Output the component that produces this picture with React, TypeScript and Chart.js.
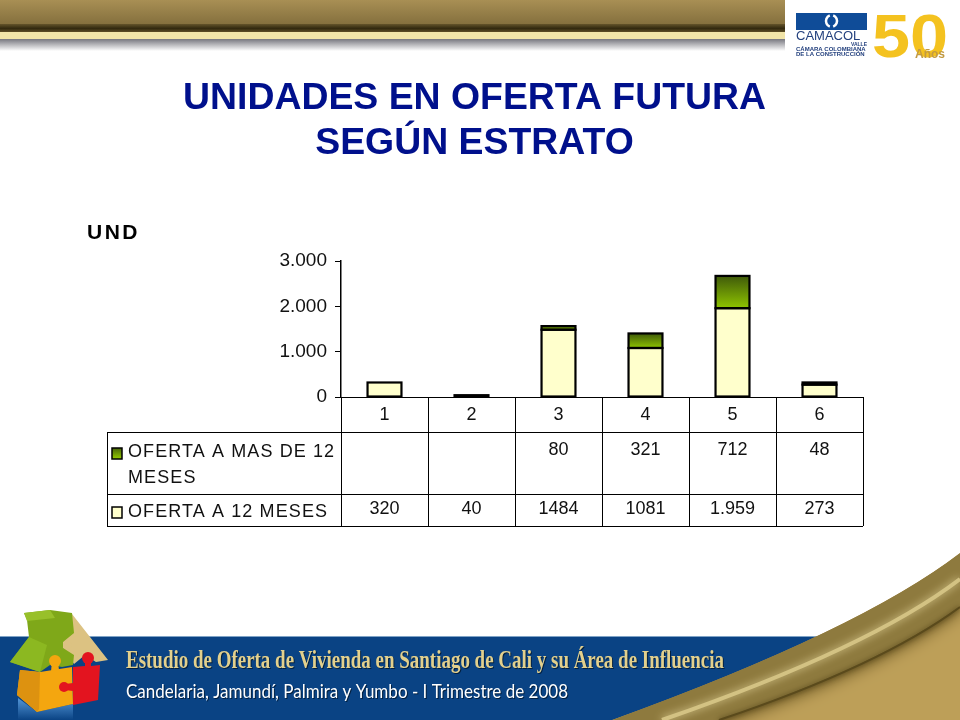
import { useEffect, useRef } from "react";
import Chart from "chart.js/auto";
import type { Plugin } from "chart.js";

const categories = ["1", "2", "3", "4", "5", "6"];
const offerLabel12 = "OFERTA A 12 MESES";
const offerLabelMore = ["OFERTA A MAS DE 12", "MESES"];
const offer12 = [320, 40, 1484, 1081, 1959, 273];
const offerMore = [null, null, 80, 321, 712, 48];
const offer12Text = ["320", "40", "1484", "1081", "1.959", "273"];
const offerMoreText = ["", "", "80", "321", "712", "48"];

const FONT = '"Liberation Sans", Arial, sans-serif';
const PLOT_LEFT = 341;
const PLOT_BOTTOM = 397;
const PAD_LEFT = 86;
const TABLE_LEFT = 107;
const ROW_LINES = [432, 494, 526];

const poly = (ctx: CanvasRenderingContext2D, pts: number[][], fill: string | CanvasGradient) => {
  ctx.beginPath();
  pts.forEach(([x, y], i) => (i ? ctx.lineTo(x, y) : ctx.moveTo(x, y)));
  ctx.closePath();
  ctx.fillStyle = fill;
  ctx.fill();
};

const knob = (ctx: CanvasRenderingContext2D, x: number, y: number, r: number, fill: string) => {
  ctx.beginPath();
  ctx.arc(x, y, r, 0, Math.PI * 2);
  ctx.fillStyle = fill;
  ctx.fill();
};

const drawHeader = (ctx: CanvasRenderingContext2D) => {
  const gold = ctx.createLinearGradient(0, 0, 0, 24);
  gold.addColorStop(0, "#a88f54");
  gold.addColorStop(1, "#85703e");
  ctx.fillStyle = gold;
  ctx.fillRect(0, 0, 785, 24);
  const dark = ctx.createLinearGradient(0, 23, 0, 32);
  dark.addColorStop(0, "#6f5d30");
  dark.addColorStop(0.6, "#33290f");
  dark.addColorStop(1, "#5c4c25");
  ctx.fillStyle = dark;
  ctx.fillRect(0, 24, 785, 8);
  ctx.fillStyle = "#f1e4a8";
  ctx.fillRect(0, 32, 785, 7);
  const shade = ctx.createLinearGradient(0, 39, 0, 51);
  shade.addColorStop(0, "#77777f");
  shade.addColorStop(1, "#ffffff");
  ctx.fillStyle = shade;
  ctx.fillRect(0, 39, 785, 12);

  // logo
  ctx.fillStyle = "#0f4c98";
  ctx.fillRect(796, 13, 71, 17);
  ctx.strokeStyle = "#ffffff";
  ctx.lineWidth = 2.5;
  ctx.beginPath();
  ctx.arc(832, 21, 6, Math.PI * 0.62, Math.PI * 1.38);
  ctx.stroke();
  ctx.beginPath();
  ctx.arc(831, 21, 6, -Math.PI * 0.38, Math.PI * 0.38);
  ctx.stroke();
  ctx.textAlign = "left";
  ctx.textBaseline = "alphabetic";
  ctx.fillStyle = "#24417e";
  ctx.font = `13px ${FONT}`;
  ctx.fillText("CAMACOL", 796, 40, 71);
  ctx.font = `bold 5px ${FONT}`;
  ctx.textAlign = "right";
  ctx.fillText("VALLE", 867, 46);
  ctx.textAlign = "left";
  ctx.font = `bold 6px ${FONT}`;
  ctx.fillText("CÁMARA COLOMBIANA", 796, 51, 71);
  ctx.fillText("DE LA CONSTRUCCIÓN", 796, 56, 71);
  const fifty = ctx.createLinearGradient(0, 12, 0, 58);
  fifty.addColorStop(0, "#f4c21f");
  fifty.addColorStop(0.6, "#eab818");
  fifty.addColorStop(1, "#f8dc70");
  ctx.save();
  ctx.translate(872, 57);
  ctx.scale(1.14, 1.02);
  ctx.fillStyle = fifty;
  ctx.font = `bold 60px ${FONT}`;
  ctx.fillText("50", 0, 0);
  ctx.restore();
  ctx.fillStyle = "#c29a42";
  ctx.font = `bold 12px ${FONT}`;
  ctx.fillText("Años", 915, 58, 31);
};

const drawFooter = (ctx: CanvasRenderingContext2D) => {
  ctx.fillStyle = "#0a4384";
  ctx.fillRect(0, 636, 850, 84);
  ctx.fillStyle = "#7fa3c6";
  ctx.fillRect(0, 636, 850, 1);

  ctx.beginPath();
  ctx.moveTo(960, 553);
  ctx.quadraticCurveTo(860, 630, 612, 720);
  ctx.lineTo(960, 720);
  ctx.closePath();
  ctx.fillStyle = "#bd9f58";
  ctx.fill();

  // swoosh band, clipped to the curve
  ctx.save();
  ctx.clip();
  ctx.save();
  ctx.shadowColor = "#5a4818";
  ctx.shadowBlur = 16;
  ctx.shadowOffsetY = 4;
  ctx.beginPath();
  ctx.moveTo(960, 553);
  ctx.quadraticCurveTo(860, 630, 612, 720);
  ctx.lineTo(718, 720);
  ctx.quadraticCurveTo(880, 665, 960, 606);
  ctx.closePath();
  ctx.fillStyle = "#8e7a3e";
  ctx.fill();
  ctx.restore();
  ctx.save();
  ctx.shadowColor = "#e4d69c";
  ctx.shadowBlur = 8;
  ctx.strokeStyle = "#d3c283";
  ctx.lineWidth = 4;
  ctx.beginPath();
  ctx.moveTo(960, 579);
  ctx.quadraticCurveTo(870, 648, 662, 720);
  ctx.stroke();
  ctx.restore();
  ctx.save();
  ctx.shadowColor = "#4a3c14";
  ctx.shadowBlur = 5;
  ctx.strokeStyle = "#5a4a1c";
  ctx.lineWidth = 2;
  ctx.beginPath();
  ctx.moveTo(960, 607);
  ctx.quadraticCurveTo(880, 666, 719, 720);
  ctx.stroke();
  ctx.restore();
  ctx.restore();

  // puzzle house
  const reflect = ctx.createLinearGradient(0, 700, 0, 720);
  reflect.addColorStop(0, "#4d8fd0");
  reflect.addColorStop(1, "#0a4384");
  poly(ctx, [[18, 698], [37, 712], [73, 704], [73, 720], [18, 720]], reflect);
  poly(ctx, [[72, 614], [108, 660], [96, 662], [85, 655], [74, 664], [63, 648], [63, 642]], "#dcc282");
  knob(ctx, 67, 645, 5, "#dcc282");
  poly(ctx, [[20, 670], [40, 672], [72, 667], [73, 704], [37, 712], [17, 695]], "#f4a60f");
  poly(ctx, [[20, 670], [40, 672], [39, 709], [37, 712], [17, 695]], "#dd9210");
  poly(ctx, [[73, 667], [85, 666], [85, 660], [91, 660], [91, 666], [100, 665], [98, 700], [73, 705], [73, 691], [65, 690], [65, 684], [73, 683]], "#e3141f");
  knob(ctx, 88, 658, 6, "#e3141f");
  knob(ctx, 64, 687, 5, "#e3141f");
  poly(ctx, [[24, 613], [50, 610], [72, 613], [74, 633], [63, 642], [63, 648], [74, 655], [73, 665], [62, 667], [50, 665], [40, 672], [10, 662], [29, 637], [27, 620]], "#7fa819");
  poly(ctx, [[10, 662], [29, 637], [47, 645], [40, 672]], "#8cb821");
  poly(ctx, [[24, 613], [50, 610], [55, 618], [27, 621]], "#98c02a");
  poly(ctx, [[52, 662], [58, 662], [59, 670], [51, 671]], "#f4a60f");
  knob(ctx, 55, 661, 6, "#f4a60f");

  ctx.textAlign = "left";
  ctx.textBaseline = "middle";
  ctx.save();
  ctx.shadowColor = "#04203f";
  ctx.shadowOffsetX = 1;
  ctx.shadowOffsetY = 1;
  ctx.fillStyle = "#e2d08d";
  ctx.font = 'bold 25px "Liberation Serif", serif';
  ctx.fillText("Estudio de Oferta de Vivienda en Santiago de Cali y su Área de Influencia", 126, 662, 598);
  ctx.fillStyle = "#ffffff";
  ctx.font = '20px "Lato", sans-serif';
  ctx.fillText("Candelaria, Jamundí, Palmira y Yumbo - I Trimestre de 2008", 126, 692, 442);
  ctx.restore();
};

const swatch = (ctx: CanvasRenderingContext2D, y: number, fill: string | CanvasGradient) => {
  ctx.fillStyle = fill;
  ctx.fillRect(112, y, 10, 11);
  ctx.strokeStyle = "#000000";
  ctx.lineWidth = 1.5;
  ctx.strokeRect(112, y, 10, 11);
};

const backdrop: Plugin<"bar"> = {
  id: "backdrop",
  beforeDraw(chart) {
    const ctx = chart.ctx;
    ctx.save();
    ctx.fillStyle = "#ffffff";
    ctx.fillRect(0, 0, chart.width, chart.height);
    drawHeader(ctx);
    drawFooter(ctx);
    ctx.fillStyle = "#000000";
    ctx.font = `bold 21px ${FONT}`;
    ctx.textAlign = "left";
    ctx.textBaseline = "middle";
    ctx.letterSpacing = "2.5px";
    ctx.fillText("UND", 87, 233);
    ctx.restore();
  },
};

// centred outline like the original, so the very short bar 2 reads as a black blob
const barOutline: Plugin<"bar"> = {
  id: "barOutline",
  afterDatasetsDraw(chart) {
    const ctx = chart.ctx;
    ctx.save();
    ctx.strokeStyle = "#000000";
    ctx.lineWidth = 2.2;
    chart.data.datasets.forEach((ds, d) => {
      chart.getDatasetMeta(d).data.forEach((el, i) => {
        if (ds.data[i] == null) return;
        const { x, y, base, width } = el.getProps(["x", "y", "base", "width"], true);
        ctx.strokeRect(x - width / 2, y, width, base - y);
      });
    });
    ctx.restore();
  },
};

const dataTable: Plugin<"bar"> = {
  id: "dataTable",
  afterDraw(chart) {
    const ctx = chart.ctx;
    const x = chart.scales.x;
    const right = chart.chartArea.right;
    const step = (right - PLOT_LEFT) / categories.length;
    ctx.save();
    ctx.strokeStyle = "#000000";
    ctx.lineWidth = 1;
    ctx.beginPath();
    ROW_LINES.forEach((y) => {
      ctx.moveTo(TABLE_LEFT, y + 0.5);
      ctx.lineTo(right, y + 0.5);
    });
    ctx.moveTo(TABLE_LEFT + 0.5, ROW_LINES[0]);
    ctx.lineTo(TABLE_LEFT + 0.5, ROW_LINES[2]);
    categories.forEach((_, i) => {
      const lineX = Math.round(x.getPixelForValue(i) - step / 2) + 0.5;
      ctx.moveTo(lineX, PLOT_BOTTOM);
      ctx.lineTo(lineX, ROW_LINES[2]);
    });
    ctx.moveTo(right + 0.5, PLOT_BOTTOM);
    ctx.lineTo(right + 0.5, ROW_LINES[2]);
    ctx.stroke();

    ctx.fillStyle = "#111111";
    ctx.font = `18px ${FONT}`;
    ctx.textAlign = "center";
    ctx.textBaseline = "middle";
    categories.forEach((_, i) => {
      const cx = x.getPixelForValue(i);
      ctx.fillText(offerMoreText[i], cx, 450);
      ctx.fillText(offer12Text[i], cx, 509);
    });

    ctx.textAlign = "left";
    ctx.letterSpacing = "1.1px";
    ctx.fillText(offerLabelMore[0], 128, 452);
    ctx.fillText(offerLabelMore[1], 128, 478);
    ctx.fillText(offerLabel12, 128, 512);
    ctx.letterSpacing = "0px";

    const green = ctx.createLinearGradient(0, 447, 0, 458);
    green.addColorStop(0, "#3f5a0a");
    green.addColorStop(1, "#8fc400");
    swatch(ctx, 448, green);
    swatch(ctx, 507, "#ffffcc");
    ctx.restore();
  },
};

export default function App() {
  const canvasRef = useRef<HTMLCanvasElement | null>(null);

  useEffect(() => {
    const canvas = canvasRef.current;
    if (!canvas) return;

    const chart = new Chart(canvas, {
      type: "bar",
      data: {
        labels: categories,
        datasets: [
          {
            label: offerLabel12,
            data: offer12,
            backgroundColor: "#ffffcc",
            borderWidth: 0,
            barPercentage: 0.39,
            categoryPercentage: 1,
          },
          {
            label: offerLabelMore.join(" "),
            data: offerMore,
            backgroundColor(context) {
              const { chart: c, dataIndex } = context;
              const y = c.scales.y;
              const extra = offerMore[dataIndex];
              if (!y || extra == null) return "#6b9205";
              const base = offer12[dataIndex];
              const y0 = y.getPixelForValue(base + extra);
              const y1 = y.getPixelForValue(base);
              if (!Number.isFinite(y0) || !Number.isFinite(y1)) return "#6b9205";
              const g = c.ctx.createLinearGradient(0, y0, 0, y1);
              g.addColorStop(0, "#3f5a0a");
              g.addColorStop(1, "#8fc400");
              return g;
            },
            borderWidth: 0,
            barPercentage: 0.39,
            categoryPercentage: 1,
          },
        ],
      },
      options: {
        animation: false,
        responsive: false,
        devicePixelRatio: 1,
        layout: { padding: { top: 0, right: 97, bottom: 0, left: PAD_LEFT } },
        plugins: {
          legend: { display: false },
          tooltip: { enabled: false },
          title: {
            display: true,
            text: ["UNIDADES EN OFERTA FUTURA", "SEGÚN ESTRATO"],
            color: "#00108c",
            font: { family: FONT, size: 37.4, weight: "bold", lineHeight: 45 / 37.4 },
            padding: { top: 76, bottom: 95 },
            align: "center",
          },
        },
        scales: {
          x: {
            stacked: true,
            afterFit(scale) {
              scale.height = 720 - PLOT_BOTTOM;
            },
            grid: { display: false, drawTicks: false },
            border: { color: "#000000", width: 1 },
            ticks: {
              color: "#111111",
              font: { family: FONT, size: 18 },
              padding: 7,
              maxRotation: 0,
            },
          },
          y: {
            stacked: true,
            min: 0,
            max: 3000,
            afterFit(scale) {
              scale.width = PLOT_LEFT - PAD_LEFT;
            },
            grid: { drawOnChartArea: false, color: "#000000", tickLength: 6 },
            border: { color: "#000000", width: 1.5 },
            ticks: {
              stepSize: 1000,
              color: "#111111",
              padding: 8,
              font: { family: FONT, size: 19 },
              callback(value) {
                return Number(value).toLocaleString("de-DE");
              },
            },
          },
        },
      },
      plugins: [backdrop, barOutline, dataTable],
    });

    return () => chart.destroy();
  }, []);

  return (
    <div style={{ position: "absolute", left: 0, top: 0, width: 960, height: 720 }}>
      <canvas ref={canvasRef} width={960} height={720} style={{ display: "block" }} />
    </div>
  );
}
